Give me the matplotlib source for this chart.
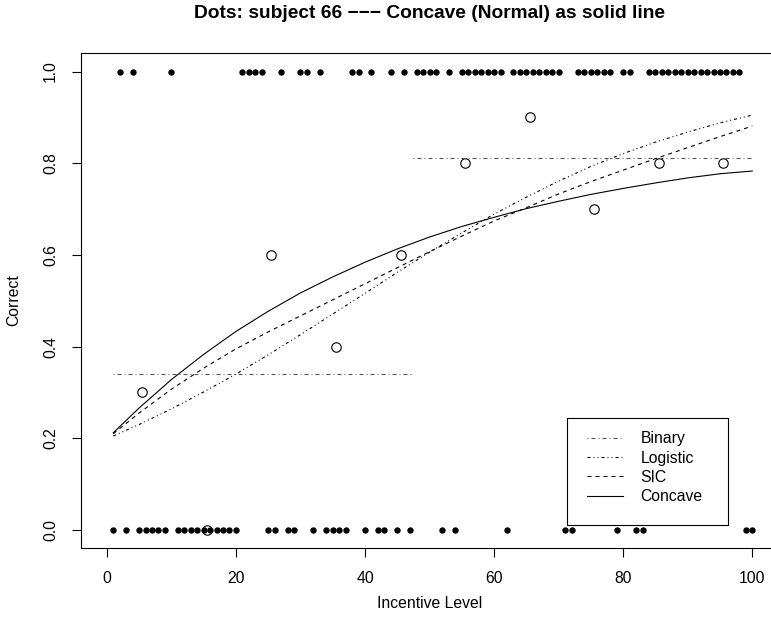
import numpy as np
import matplotlib
matplotlib.use("Agg")
import matplotlib.pyplot as plt
from matplotlib.lines import Line2D
from matplotlib.patches import Rectangle

plt.rcParams["font.family"] = ["Liberation Sans", "DejaVu Sans"]
plt.rcParams["lines.scale_dashes"] = False

## data ##
# incentive levels answered correctly (dots at 1) and wrongly (dots at 0)
hit_levels = [2, 4, 10, 21, 22, 23, 24, 27, 30, 31, 33, 38, 39, 41, 44, 46,
              48, 49, 50, 51, 53, 55, 56, 57, 58, 59, 60, 61, 63, 64, 65, 66,
              67, 68, 69, 70, 73, 74, 75, 76, 77, 78, 80, 81, 84, 85, 86, 87,
              88, 89, 90, 91, 92, 93, 94, 95, 96, 97, 98]
miss_levels = [1, 3, 5, 6, 7, 8, 9, 11, 12, 13, 14, 15, 16, 17, 18, 19, 20,
               25, 26, 28, 29, 32, 34, 35, 36, 37, 40, 42, 43, 45, 47, 52, 54,
               62, 71, 72, 79, 82, 83, 99, 100]

# binned proportions (open circles)
bin_centers = [5.5, 15.5, 25.5, 35.5, 45.5, 55.5, 65.5, 75.5, 85.5, 95.5]
bin_means = [0.3, 0.0, 0.6, 0.4, 0.6, 0.8, 0.9, 0.7, 0.8, 0.8]

# binary model: two flat levels
binary_low_x = [1, 47.5]
binary_low_y = [0.340, 0.340]
binary_high_x = [47.5, 100]
binary_high_y = [0.811, 0.811]

# fitted curves read at these incentive levels
curve_x = [1, 5, 10, 15, 20, 25, 30, 35, 40, 45, 50,
           55, 60, 65, 70, 75, 80, 85, 90, 95, 100]
logistic_y = [0.205, 0.230, 0.264, 0.301, 0.340, 0.382, 0.426, 0.471, 0.516,
              0.562, 0.606, 0.648, 0.689, 0.726, 0.761, 0.793, 0.821, 0.846,
              0.868, 0.888, 0.905]
sic_y = [0.210, 0.255, 0.307, 0.353, 0.395, 0.432, 0.467, 0.502, 0.537,
         0.572, 0.607, 0.641, 0.674, 0.703, 0.733, 0.760, 0.785, 0.810,
         0.834, 0.858, 0.881]
concave_y = [0.212, 0.266, 0.328, 0.383, 0.433, 0.477, 0.517, 0.552, 0.584,
             0.613, 0.639, 0.662, 0.682, 0.701, 0.717, 0.732, 0.745, 0.757,
             0.768, 0.777, 0.783]

## line styles (dash lengths in points) ##
px = 0.72
binary_ls = (0, (1 * px, 3 * px, 4 * px, 3 * px))
logistic_ls = (0, (3 * px, 3 * px, 1 * px, 3 * px, 1 * px, 3 * px))
sic_ls = (0, (4 * px, 4 * px))
binary_col = "#555555"
lw = 0.8
fs = 11.3

fig = plt.figure(figsize=(7.71, 6.27), dpi=100)
ax = fig.add_axes([81 / 771, 78.7 / 627, 697.1 / 771, 495.1 / 627])

ax.plot(hit_levels, np.ones(len(hit_levels)), "o", color="black",
        markersize=4.6, markeredgewidth=0)
ax.plot(miss_levels, np.zeros(len(miss_levels)), "o", color="black",
        markersize=4.6, markeredgewidth=0)
ax.plot(bin_centers, bin_means, "o", markerfacecolor="none",
        markeredgecolor="black", markersize=6.8, markeredgewidth=0.8)

ax.plot(binary_low_x, binary_low_y, color=binary_col, linestyle=binary_ls, lw=lw)
ax.plot(binary_high_x, binary_high_y, color=binary_col, linestyle=binary_ls, lw=lw)
ax.plot(curve_x, logistic_y, color="black", linestyle=logistic_ls, lw=lw)
ax.plot(curve_x, sic_y, color="black", linestyle=sic_ls, lw=lw)
ax.plot(curve_x, concave_y, color="black", linestyle="-", lw=lw)

ax.set_xlim(-4, 104)
ax.set_ylim(-0.04, 1.04)
ax.set_xticks([0, 20, 40, 60, 80, 100])
ax.set_yticks([0.0, 0.2, 0.4, 0.6, 0.8, 1.0])
ax.set_yticklabels(["0.0", "0.2", "0.4", "0.6", "0.8", "1.0"],
                   rotation=90, va="center")
ax.tick_params(length=6.5, width=0.8, labelsize=fs, pad=10)
for sp in ax.spines.values():
    sp.set_linewidth(0.8)

fig.text(429.5 / 771, 1 - 603 / 627, "Incentive Level", ha="center",
         va="center", fontsize=fs)
fig.text(14 / 771, 1 - 300 / 627, "Correct", ha="center", va="center",
         rotation=90, fontsize=fs)
fig.text(429.5 / 771, 1 - 14 / 627,
         "Dots: subject 66 \u2212\u2212\u2212 Concave (Normal) as solid line",
         ha="center", va="center", fontsize=13.8, fontweight="bold")

handles = [
    Line2D([], [], color=binary_col, linestyle=binary_ls, lw=lw),
    Line2D([], [], color="black", linestyle=logistic_ls, lw=lw),
    Line2D([], [], color="black", linestyle=sic_ls, lw=lw),
    Line2D([], [], color="black", linestyle="-", lw=lw),
]
leg = ax.legend(handles, ["Binary", "Logistic", "SIC", "Concave"],
                loc="upper left", bbox_to_anchor=(0.7259, 0.236),
                frameon=False, fontsize=fs, handlelength=2.3,
                handletextpad=1.1, borderpad=0, labelspacing=0.27,
                borderaxespad=0)
# legend box as drawn by R (taller at the bottom)
ax.add_patch(Rectangle((0.6972, 0.0471), 0.2309, 0.2161, transform=ax.transAxes,
                       fill=False, edgecolor="black", lw=0.8, zorder=5))

fig.savefig("out.png", dpi=100)
